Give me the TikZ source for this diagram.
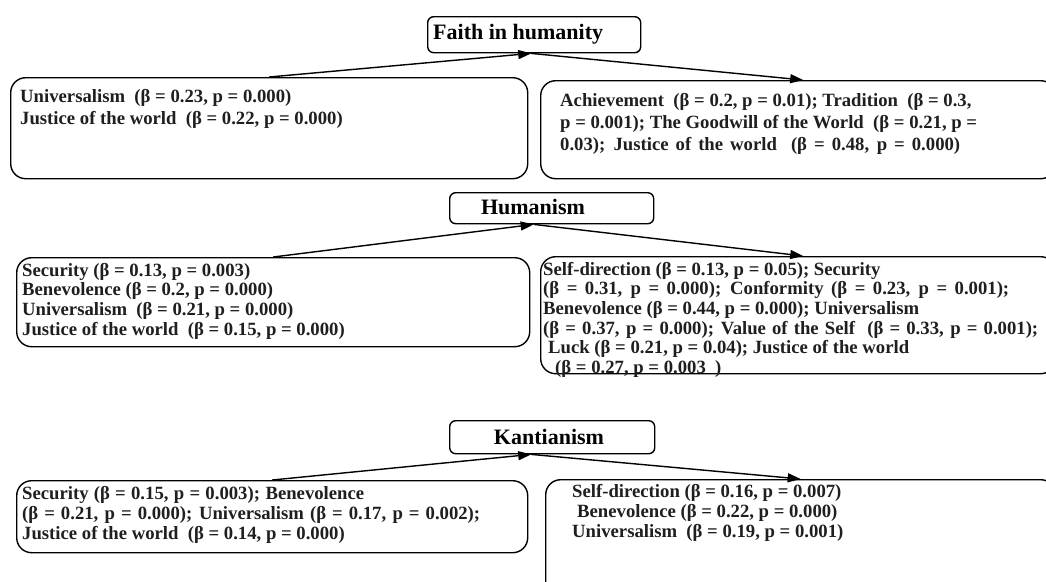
\documentclass[tikz,border=0pt]{standalone}
\usepackage{fontspec}
\setmainfont{Liberation Serif}
\usetikzlibrary{arrows.meta,calc}
\begin{document}
\begin{tikzpicture}[x=1pt,y=-1pt,
  box/.style={draw, rounded corners=15pt, line width=1.4pt, inner sep=0pt, anchor=north west},
  title/.style={draw, rounded corners=6pt, line width=1.4pt, inner sep=0pt, anchor=north west,
     font=\fontsize{22}{24}\selectfont\bfseries},
  txt/.style={inner sep=0pt, anchor=north west, align=left, text=black!88},
  arr/.style={line width=1.4pt, -{Triangle[length=13pt,width=9pt]}}
]
\useasboundingbox (0,0) rectangle (1046,581);
\fill[white] (0,0) rectangle (1046,581);

% ---- Faith in humanity
\node[title, minimum width=213pt, minimum height=36pt] (ft) at (427,16) {};
\node[anchor=west, inner sep=0pt, font=\fontsize{22}{24}\selectfont\bfseries] (ftt) at (433,34) {Faith in humanity};
\node[box, minimum width=517pt, minimum height=101pt] (fl) at (10,77) {};
\node[txt, font=\fontsize{18.7}{22}\selectfont\bfseries] (flt) at (20,89)
 {Universalism\ \ (β = 0.23, p = 0.000)\\Justice of the world\ \ (β = 0.22, p = 0.000)};
\node[box, minimum width=515pt, minimum height=98pt] (fr) at (540,80) {};
\node[txt, font=\fontsize{18.7}{22}\selectfont\bfseries] (frt) at (560,93)
 {Achievement\ \ (β = 0.2, p = 0.01); Tradition\ \ (β = 0.3,\\
  p = 0.001); The Goodwill of the World\ \ (β = 0.21, p =\\
  \makebox[400pt][s]{0.03); Justice of the world\ \ (β = 0.48, p = 0.000)}};
\coordinate (fa) at ([xshift=-3pt]ft.south);
\draw[arr] (fl.north) -- (fa);
\draw[arr] (fa) -- ([xshift=5pt]fr.north);

% ---- Humanism
\node[title, minimum width=204pt, minimum height=31pt] (ht) at (449,192) {};
\node[inner sep=0pt, font=\fontsize{22}{24}\selectfont\bfseries] (htt) at (533,207) {Humanism};
\node[box, minimum width=513pt, minimum height=89pt] (hl) at (16,257) {};
\node[txt, font=\fontsize{18.7}{19.6}\selectfont\bfseries] (hlt) at (22,263)
 {Security (β = 0.13, p = 0.003)\\Benevolence (β = 0.2, p = 0.000)\\Universalism\ \ (β = 0.21, p = 0.000)\\Justice of the world\ \ (β = 0.15, p = 0.000)};
\node[box, minimum width=515pt, minimum height=117pt] (hr) at (540,256) {};
\node[txt, font=\fontsize{18.7}{19.6}\selectfont\bfseries] (hrt) at (543,262)
 {Self-direction (β = 0.13, p = 0.05); Security\\
  \makebox[466pt][s]{(β = 0.31, p = 0.000); Conformity (β = 0.23, p = 0.001);}\\
  Benevolence (β = 0.44, p = 0.000); Universalism\\
  \makebox[495pt][s]{(β = 0.37, p = 0.000); Value of the Self\ \ (β = 0.33, p = 0.001);}\\
  \hspace*{5pt}Luck (β = 0.21, p = 0.04); Justice of the world\\
  \hspace*{12pt}(β = 0.27, p = 0.003\ \ )};
\coordinate (ha) at ([xshift=-18pt]ht.south);
\draw[arr] (hl.north) -- (ha);
\draw[arr] (ha) -- ([xshift=5pt]hr.north);

% ---- Kantianism
\node[title, minimum width=205pt, minimum height=33pt] (kt) at (449,420) {};
\node[inner sep=0pt, font=\fontsize{22}{24}\selectfont\bfseries] (ktt) at (549,437) {Kantianism};
\node[box, minimum width=511pt, minimum height=72pt] (kl) at (16,480) {};
\node[txt, font=\fontsize{18.7}{20}\selectfont\bfseries] (klt) at (22,486)
 {\makebox[342pt][s]{Security (β = 0.15, p = 0.003); Benevolence}\\
  \makebox[458pt][s]{(β = 0.21, p = 0.000); Universalism (β = 0.17, p = 0.002);}\\
  Justice of the world\ \ (β = 0.14, p = 0.000)};
\node[box, minimum width=510pt, minimum height=130pt] (kr) at (545,479) {};
\node[txt, font=\fontsize{18.7}{20}\selectfont\bfseries] (krt) at (572,484)
 {Self-direction (β = 0.16, p = 0.007)\\
  \hspace*{5pt}Benevolence (β = 0.22, p = 0.000)\\
  Universalism\ \ (β = 0.19, p = 0.001)};
\coordinate (ka) at ([xshift=-21pt]kt.south);
\draw[arr] (kl.north) -- (ka);
\draw[arr] (ka) -- (kr.north);
\end{tikzpicture}
\end{document}
